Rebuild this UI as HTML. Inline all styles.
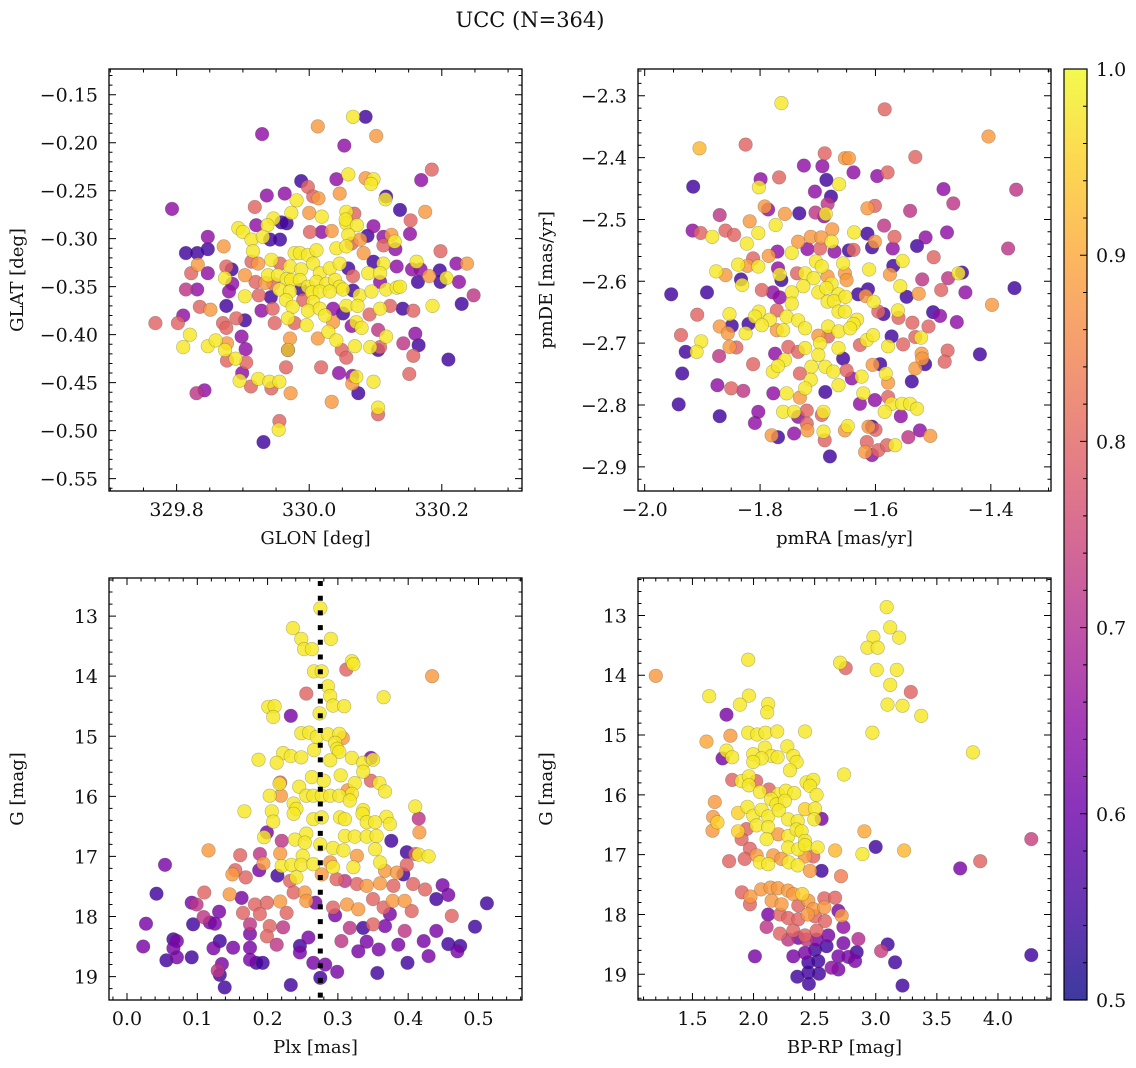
<!DOCTYPE html>
<html><head><meta charset="utf-8">
<style>
html,body{margin:0;padding:0;background:#fff;}
svg{display:block;font-family:"DejaVu Serif","Liberation Serif",serif;}
</style></head>
<body>
<svg id="fig" width="1136" height="1068" viewBox="0 0 1136 1068" xmlns="http://www.w3.org/2000/svg">
<rect width="1136" height="1068" fill="#fff"/>
<text x="530" y="27" font-size="21" text-anchor="middle" fill="#111">UCC (N=364)</text>
</svg>
<script>
// ---- data (x, y, membership probability) ----
const glonGlat = [
[330.066,-0.173,0.98],[330.085,-0.173,0.55],[330.013,-0.183,0.88],[330.101,-0.193,0.88],[329.929,-0.191,0.65],[330.053,-0.203,0.65],[330.185,-0.228,0.8],[330.059,-0.233,0.98],[330.041,-0.238,0.65],[330.085,-0.237,0.88],[330.097,-0.238,0.98],[330.093,-0.243,0.98],[330.169,-0.239,0.65],[329.988,-0.24,0.55],[329.998,-0.246,0.8],[329.936,-0.255,0.65],[329.963,-0.253,0.65],[330.046,-0.253,0.88],[330.006,-0.256,0.8],[330.014,-0.258,0.88],[330.116,-0.256,0.55],[330.115,-0.259,0.98],[329.981,-0.26,0.98],[329.793,-0.269,0.65],[329.918,-0.267,0.8],[330.137,-0.27,0.55],[330.175,-0.272,0.88],[329.973,-0.273,0.98],[330,-0.273,0.88],[330.019,-0.277,0.98],
[330.056,-0.272,0.98],[330.056,-0.284,0.98],[330.068,-0.274,0.8],[330.055,-0.28,0.98],[329.946,-0.279,0.98],[329.958,-0.283,0.55],[329.966,-0.284,0.55],[329.92,-0.286,0.65],[329.937,-0.286,0.98],[329.893,-0.289,0.98],[329.9,-0.293,0.98],[330.072,-0.286,0.98],[330.097,-0.287,0.65],[330.153,-0.281,0.8],[329.847,-0.298,0.65],[329.913,-0.301,0.98],[329.93,-0.298,0.98],[329.941,-0.301,0.55],[329.956,-0.301,0.55],
[330.001,-0.293,0.8],[330.019,-0.293,0.65],[330.034,-0.292,0.88],[330.059,-0.296,0.98],[330.077,-0.301,0.88],[330.088,-0.297,0.55],[330.112,-0.298,0.65],[330.124,-0.296,0.88],[330.129,-0.303,0.98],[330.152,-0.295,0.65],[329.814,-0.315,0.55],[329.831,-0.315,0.55],[329.847,-0.311,0.55],[329.871,-0.308,0.88],
[329.915,-0.313,0.98],[329.978,-0.315,0.98],[329.986,-0.315,0.98],[329.998,-0.317,0.98],[330.011,-0.312,0.98],[330.041,-0.31,0.98],[330.056,-0.308,0.98],[330.064,-0.305,0.8],[330.082,-0.315,0.88],[330.112,-0.307,0.8],[330.13,-0.311,0.65],[330.198,-0.313,0.8],
[329.832,-0.327,0.88],[329.822,-0.336,0.8],[329.847,-0.336,0.65],[329.875,-0.329,0.8],[329.883,-0.332,0.55],[329.903,-0.338,0.88],[329.913,-0.324,0.8],[329.923,-0.326,0.88],[329.943,-0.322,0.98],[329.956,-0.326,0.8],[329.938,-0.338,0.98],[329.953,-0.338,0.98],
[329.971,-0.329,0.98],[329.988,-0.332,0.98],[330.006,-0.326,0.98],[330.016,-0.336,0.98],[330.031,-0.331,0.98],[330.046,-0.326,0.98],[330.059,-0.331,0.55],[330.066,-0.339,0.8],[330.089,-0.336,0.98],[330.097,-0.324,0.55],[330.112,-0.326,0.98],[330.132,-0.329,0.65],[330.155,-0.332,0.65],[330.162,-0.324,0.98],[330.168,-0.332,0.65],[330.181,-0.339,0.88],[330.197,-0.333,0.55],[330.207,-0.341,0.98],[330.222,-0.326,0.65],[330.238,-0.326,0.88],
[329.873,-0.341,0.98],[329.884,-0.347,0.65],[329.814,-0.353,0.72],[329.831,-0.353,0.65],
[329.919,-0.345,0.8],[329.934,-0.346,0.88],[329.946,-0.347,0.8],[329.966,-0.342,0.98],[329.973,-0.343,0.98],[329.986,-0.343,0.98],[329.998,-0.35,0.98],[330.011,-0.345,0.98],[330.026,-0.347,0.98],[330.039,-0.343,0.98],[330.046,-0.35,0.98],[330.107,-0.336,0.98],[330.107,-0.345,0.65],[330.116,-0.353,0.98],[330.132,-0.351,0.98],[330.137,-0.35,0.98],[330.164,-0.345,0.55],[330.198,-0.345,0.55],[330.226,-0.345,0.65],
[329.879,-0.355,0.65],[329.903,-0.36,0.98],[329.924,-0.359,0.8],[329.942,-0.361,0.55],[329.955,-0.353,0.98],[329.971,-0.355,0.98],[329.988,-0.353,0.55],[330.004,-0.356,0.98],[330.016,-0.355,0.98],[330.031,-0.355,0.98],[330.051,-0.353,0.98],[330.066,-0.354,0.55],[330.076,-0.359,0.98],[330.094,-0.355,0.98],[330.248,-0.359,0.72],[330.23,-0.368,0.55],
[329.835,-0.371,0.8],[329.851,-0.374,0.88],[329.875,-0.37,0.55],[329.928,-0.375,0.65],[329.945,-0.373,0.8],[329.965,-0.364,0.98],[329.975,-0.371,0.98],[329.991,-0.364,0.8],[330.006,-0.366,0.98],[329.998,-0.375,0.98],[330.016,-0.373,0.98],[330.036,-0.373,0.65],[330.056,-0.37,0.98],[330.073,-0.37,0.98],[330.091,-0.379,0.8],[330.107,-0.373,0.98],[330.122,-0.37,0.8],[330.141,-0.373,0.55],[330.157,-0.375,0.8],[330.186,-0.37,0.98],
[329.768,-0.388,0.8],[329.802,-0.388,0.8],[329.81,-0.38,0.65],[329.87,-0.388,0.8],[329.875,-0.393,0.8],[329.903,-0.385,0.55],[329.89,-0.383,0.8],[329.948,-0.388,0.8],[329.968,-0.383,0.98],[329.978,-0.388,0.8],[329.996,-0.39,0.98],[330.024,-0.38,0.98],[330.036,-0.387,0.88],[330.051,-0.378,0.55],[330.071,-0.387,0.98],[330.079,-0.393,0.98],[330.064,-0.391,0.65],[330.104,-0.395,0.72],
[329.82,-0.4,0.98],[329.81,-0.413,0.98],[329.847,-0.412,0.98],[329.859,-0.406,0.98],[329.873,-0.416,0.98],[329.898,-0.402,0.65],[329.904,-0.415,0.65],[329.876,-0.409,0.88],[329.889,-0.425,0.98],[329.876,-0.427,0.8],[329.905,-0.429,0.8],
[329.971,-0.404,0.88],[329.968,-0.416,0.55],[329.968,-0.416,0.95],[330.013,-0.404,0.88],[330.029,-0.397,0.98],[330.041,-0.406,0.98],[330.049,-0.416,0.8],[330.056,-0.424,0.8],[330.069,-0.412,0.98],[330.092,-0.413,0.98],[330.104,-0.416,0.55],[330.107,-0.413,0.8],[330.116,-0.402,0.98],[330.142,-0.409,0.72],[330.16,-0.399,0.65],[330.165,-0.411,0.55],[330.157,-0.422,0.8],[330.21,-0.426,0.55],[330.151,-0.441,0.8],
[329.899,-0.44,0.65],[329.895,-0.448,0.98],[329.923,-0.446,0.98],[329.912,-0.454,0.8],[329.94,-0.449,0.98],[329.955,-0.449,0.98],[329.943,-0.456,0.8],[329.965,-0.434,0.8],[329.972,-0.461,0.88],[330.018,-0.434,0.8],[330.045,-0.44,0.65],[330.065,-0.443,0.65],[330.071,-0.444,0.98],[330.065,-0.451,0.88],[330.074,-0.461,0.55],[330.097,-0.449,0.98],[329.83,-0.461,0.72],[329.842,-0.458,0.65],[330.034,-0.47,0.88],
[330.104,-0.476,0.98],[330.104,-0.483,0.8],[329.955,-0.49,0.8],[329.954,-0.499,0.98],[329.931,-0.512,0.55]
];
const pmraPmde = [
[-1.763,-2.312,0.98],[-1.584,-2.322,0.8],[-1.404,-2.366,0.88],[-1.905,-2.385,0.92],[-1.825,-2.379,0.8],[-1.688,-2.393,0.8],[-1.653,-2.401,0.88],[-1.646,-2.401,0.88],[-1.531,-2.399,0.8],
[-1.724,-2.413,0.65],[-1.692,-2.414,0.65],[-1.638,-2.424,0.65],[-1.597,-2.43,0.65],[-1.579,-2.424,0.8],[-1.799,-2.435,0.65],[-1.767,-2.432,0.8],[-1.685,-2.436,0.55],[-1.663,-2.443,0.98],[-1.916,-2.447,0.55],[-1.802,-2.448,0.98],
[-1.482,-2.451,0.65],[-1.356,-2.452,0.72],[-1.705,-2.455,0.65],[-1.677,-2.463,0.55],[-1.465,-2.474,0.72],[-1.683,-2.475,0.72],[-1.792,-2.479,0.88],[-1.786,-2.484,0.65],[-1.614,-2.482,0.88],[-1.601,-2.478,0.8],[-1.54,-2.486,0.72],
[-1.87,-2.493,0.72],[-1.757,-2.491,0.88],[-1.732,-2.49,0.55],[-1.704,-2.489,0.72],[-1.689,-2.495,0.65],[-1.686,-2.491,0.98],[-1.818,-2.503,0.88],[-1.773,-2.509,0.98],[-1.803,-2.522,0.98],[-1.585,-2.51,0.72],
[-1.917,-2.518,0.65],[-1.903,-2.522,0.8],[-1.883,-2.528,0.98],[-1.86,-2.518,0.8],[-1.845,-2.525,0.8],[-1.823,-2.539,0.98],[-1.675,-2.516,0.88],[-1.637,-2.521,0.98],[-1.614,-2.523,0.55],[-1.601,-2.536,0.88],[-1.567,-2.528,0.8],[-1.513,-2.529,0.65],[-1.476,-2.521,0.65],
[-1.734,-2.536,0.88],[-1.712,-2.528,0.88],[-1.694,-2.529,0.88],[-1.676,-2.536,0.98],[-1.718,-2.548,0.65],[-1.696,-2.547,0.8],[-1.671,-2.552,0.65],[-1.646,-2.55,0.55],[-1.638,-2.549,0.8],[-1.606,-2.545,0.55],[-1.57,-2.547,0.65],[-1.528,-2.543,0.55],[-1.37,-2.547,0.72],
[-1.77,-2.552,0.65],[-1.745,-2.554,0.98],[-1.785,-2.559,0.88],[-1.812,-2.563,0.8],[-1.822,-2.575,0.88],[-1.838,-2.573,0.98],[-1.499,-2.561,0.8],
[-1.703,-2.568,0.98],[-1.693,-2.576,0.98],[-1.656,-2.571,0.98],[-1.803,-2.576,0.98],[-1.769,-2.579,0.65],[-1.736,-2.587,0.8],[-1.553,-2.567,0.98],[-1.569,-2.575,0.55],[-1.611,-2.581,0.98],
[-1.876,-2.584,0.98],[-1.86,-2.59,0.88],[-1.833,-2.597,0.55],[-1.831,-2.606,0.98],[-1.766,-2.589,0.98],[-1.763,-2.598,0.55],[-1.722,-2.587,0.98],[-1.707,-2.595,0.98],[-1.683,-2.592,0.88],[-1.676,-2.604,0.98],[-1.653,-2.587,0.88],[-1.65,-2.598,0.88],[-1.456,-2.587,0.98],[-1.45,-2.586,0.55],[-1.575,-2.589,0.88],[-1.519,-2.597,0.72],[-1.474,-2.595,0.72],[-1.557,-2.608,0.98],
[-1.954,-2.621,0.55],[-1.892,-2.618,0.55],[-1.797,-2.614,0.8],[-1.778,-2.618,0.65],[-1.766,-2.626,0.65],[-1.725,-2.608,0.98],[-1.745,-2.618,0.98],[-1.699,-2.618,0.98],[-1.685,-2.611,0.98],[-1.664,-2.621,0.98],[-1.63,-2.621,0.55],[-1.613,-2.613,0.55],[-1.617,-2.624,0.88],[-1.546,-2.625,0.55],[-1.525,-2.62,0.88],[-1.486,-2.614,0.8],[-1.444,-2.618,0.65],[-1.359,-2.611,0.55],
[-1.683,-2.633,0.98],[-1.672,-2.632,0.98],[-1.652,-2.625,0.98],[-1.603,-2.633,0.98],[-1.664,-2.649,0.98],[-1.653,-2.649,0.98],[-1.632,-2.662,0.98],[-1.638,-2.669,0.98],[-1.745,-2.636,0.98],[-1.771,-2.647,0.8],[-1.802,-2.649,0.98],[-1.853,-2.653,0.98],[-1.809,-2.657,0.98],[-1.783,-2.662,0.98],[-1.797,-2.671,0.98],[-1.754,-2.657,0.98],[-1.734,-2.663,0.98],[-1.722,-2.676,0.98],[-1.76,-2.679,0.98],[-1.771,-2.679,0.88],[-1.398,-2.638,0.88],[-1.595,-2.649,0.8],[-1.586,-2.653,0.55],[-1.561,-2.647,0.98],[-1.56,-2.659,0.8],[-1.5,-2.65,0.55],[-1.488,-2.656,0.65],[-1.536,-2.667,0.8],[-1.459,-2.666,0.65],
[-1.909,-2.654,0.8],[-1.937,-2.687,0.8],[-1.902,-2.697,0.98],[-1.929,-2.714,0.55],[-1.91,-2.714,0.98],[-1.87,-2.673,0.88],[-1.849,-2.672,0.55],[-1.82,-2.669,0.55],[-1.856,-2.684,0.88],[-1.841,-2.707,0.8],[-1.825,-2.684,0.98],[-1.812,-2.734,0.8],[-1.871,-2.721,0.72],[-1.853,-2.706,0.88],[-1.682,-2.673,0.98],[-1.699,-2.688,0.88],[-1.682,-2.689,0.8],[-1.664,-2.681,0.98],[-1.644,-2.676,0.98],[-1.696,-2.7,0.98],[-1.664,-2.708,0.98],[-1.627,-2.703,0.8],[-1.615,-2.695,0.98],[-1.604,-2.687,0.98],[-1.578,-2.705,0.98],[-1.572,-2.689,0.55],[-1.552,-2.702,0.8],[-1.531,-2.69,0.8],[-1.521,-2.691,0.98],[-1.475,-2.712,0.8],[-1.419,-2.718,0.55],[-1.508,-2.673,0.8],
[-1.774,-2.717,0.65],[-1.757,-2.727,0.98],[-1.778,-2.746,0.98],[-1.769,-2.737,0.98],[-1.751,-2.706,0.8],[-1.734,-2.714,0.8],[-1.722,-2.708,0.98],[-1.711,-2.738,0.98],[-1.699,-2.719,0.98],[-1.687,-2.738,0.98],[-1.673,-2.746,0.98],[-1.656,-2.725,0.55],[-1.664,-2.768,0.98],[-1.712,-2.759,0.98],[-1.722,-2.773,0.98],[-1.731,-2.749,0.8],[-1.687,-2.779,0.55],[-1.65,-2.744,0.8],[-1.641,-2.757,0.65],[-1.624,-2.754,0.98],[-1.605,-2.735,0.88],[-1.592,-2.734,0.55],[-1.582,-2.749,0.98],[-1.578,-2.764,0.88],[-1.537,-2.762,0.55],[-1.531,-2.741,0.88],[-1.514,-2.734,0.55],[-1.48,-2.73,0.8],[-1.52,-2.717,0.88],[-1.519,-2.725,0.88],
[-1.941,-2.799,0.55],[-1.935,-2.749,0.55],[-1.874,-2.768,0.65],[-1.85,-2.773,0.8],[-1.829,-2.777,0.72],[-1.87,-2.818,0.55],[-1.803,-2.811,0.65],[-1.809,-2.829,0.65],[-1.777,-2.781,0.65],[-1.754,-2.781,0.98],[-1.76,-2.811,0.98],[-1.741,-2.811,0.98],[-1.734,-2.819,0.65],[-1.731,-2.788,0.88],[-1.719,-2.809,0.8],[-1.693,-2.816,0.8],[-1.69,-2.811,0.98],[-1.719,-2.83,0.8],[-1.718,-2.841,0.88],[-1.741,-2.846,0.65],[-1.78,-2.849,0.88],[-1.769,-2.852,0.55],[-1.69,-2.843,0.98],[-1.688,-2.857,0.8],[-1.679,-2.883,0.55],[-1.648,-2.834,0.98],[-1.653,-2.841,0.88],[-1.627,-2.798,0.65],[-1.621,-2.781,0.98],[-1.606,-2.835,0.55],[-1.601,-2.792,0.65],[-1.6,-2.84,0.8],[-1.612,-2.835,0.88],[-1.615,-2.86,0.8],[-1.618,-2.876,0.88],[-1.606,-2.881,0.65],[-1.595,-2.873,0.8],[-1.58,-2.865,0.8],[-1.566,-2.865,0.98],[-1.578,-2.787,0.8],[-1.572,-2.798,0.98],[-1.554,-2.798,0.98],[-1.54,-2.798,0.98],[-1.528,-2.806,0.98],[-1.584,-2.811,0.98],[-1.556,-2.818,0.65],[-1.543,-2.852,0.72],[-1.523,-2.841,0.65],[-1.505,-2.85,0.88]
];
const plxG = [
[0.275,12.87,0.98],[0.236,13.2,0.98],[0.248,13.38,0.98],[0.252,13.55,0.98],[0.263,13.55,0.98],[0.29,13.38,0.98],[0.32,13.75,0.98],[0.322,13.8,0.98],[0.312,13.89,0.8],[0.434,14.0,0.88],[0.266,13.92,0.98],[0.277,13.92,0.98],[0.286,14.17,0.98],[0.289,14.33,0.98],[0.293,14.49,0.98],[0.309,14.5,0.98],[0.365,14.35,0.98],[0.255,14.29,0.8],[0.201,14.51,0.98],[0.21,14.5,0.98],[0.208,14.68,0.98],[0.233,14.66,0.62],[0.274,14.62,0.98],
[0.248,14.95,0.98],[0.259,14.94,0.98],[0.27,15.01,0.98],[0.286,14.97,0.98],[0.302,14.96,0.98],[0.307,15.03,0.88],[0.296,15.11,0.98],[0.299,15.21,0.98],[0.302,15.26,0.98],[0.266,15.23,0.98],[0.222,15.28,0.98],[0.233,15.33,0.98],[0.248,15.35,0.98],[0.187,15.39,0.98],[0.213,15.44,0.98],[0.289,15.4,0.98],[0.347,15.36,0.62],[0.32,15.36,0.98],[0.336,15.44,0.98],[0.35,15.39,0.98],[0.336,15.59,0.98],[0.304,15.65,0.98],[0.263,15.68,0.98],[0.28,15.74,0.98],[0.218,15.77,0.8],[0.217,15.79,0.98],[0.245,15.84,0.98],[0.347,15.74,0.8],[0.359,15.78,0.98],[0.367,15.92,0.98],[0.324,15.78,0.98],[0.314,15.9,0.88],[0.32,15.96,0.98],
[0.203,15.99,0.98],[0.219,15.99,0.88],[0.255,15.99,0.98],[0.265,15.99,0.98],[0.277,15.99,0.98],[0.289,15.99,0.98],[0.302,15.99,0.98],[0.237,16.12,0.98],[0.241,16.21,0.98],[0.237,16.29,0.98],[0.317,16.07,0.98],[0.167,16.25,0.98],[0.206,16.25,0.98],[0.208,16.42,0.98],[0.41,16.17,0.98],[0.415,16.37,0.72],[0.416,16.6,0.88],[0.336,16.23,0.98],[0.335,16.29,0.98],[0.369,16.34,0.98],[0.374,16.46,0.98],
[0.265,16.38,0.98],[0.277,16.35,0.98],[0.303,16.35,0.98],[0.31,16.38,0.98],[0.341,16.43,0.98],[0.353,16.43,0.98],[0.255,16.62,0.98],[0.239,16.72,0.98],[0.253,16.77,0.98],[0.31,16.66,0.98],[0.324,16.67,0.98],[0.341,16.67,0.98],[0.355,16.66,0.98],[0.199,16.6,0.62],[0.195,16.68,0.98],[0.22,16.74,0.72],[0.376,16.74,0.55],[0.116,16.9,0.88],[0.275,16.8,0.98],[0.293,16.86,0.98],[0.308,16.9,0.98],[0.353,16.88,0.98],
[0.398,16.93,0.55],[0.41,16.96,0.8],[0.415,16.97,0.98],[0.429,17.0,0.98],[0.161,16.98,0.8],[0.189,16.96,0.72],[0.218,16.95,0.88],[0.25,16.99,0.98],[0.327,16.99,0.88],[0.36,17.1,0.98],[0.054,17.14,0.62],[0.194,17.12,0.88],[0.22,17.16,0.98],[0.234,17.14,0.98],[0.248,17.14,0.98],[0.265,17.13,0.98],[0.289,17.1,0.88],[0.293,17.18,0.98],[0.322,17.18,0.98],[0.367,17.24,0.88],[0.384,17.27,0.88],[0.393,17.3,0.55],[0.398,17.14,0.8],
[0.15,17.3,0.88],[0.169,17.35,0.8],[0.154,17.23,0.8],[0.188,17.23,0.62],[0.214,17.32,0.55],[0.241,17.35,0.98],[0.232,17.41,0.8],[0.277,17.3,0.88],[0.298,17.38,0.8],[0.31,17.41,0.72],[0.327,17.46,0.8],[0.341,17.49,0.88],[0.36,17.45,0.88],[0.379,17.49,0.8],[0.407,17.46,0.8],[0.424,17.55,0.8],[0.449,17.48,0.62],[0.457,17.64,0.62],[0.44,17.71,0.55],[0.512,17.78,0.55],[0.042,17.62,0.55],[0.11,17.6,0.8],
[0.146,17.63,0.88],[0.163,17.69,0.62],[0.092,17.77,0.62],[0.099,17.8,0.72],[0.182,17.8,0.8],[0.199,17.77,0.8],[0.218,17.75,0.88],[0.237,17.6,0.8],[0.253,17.6,0.88],[0.255,17.74,0.88],[0.268,17.77,0.62],[0.293,17.85,0.8],[0.313,17.8,0.88],[0.329,17.88,0.88],[0.35,17.71,0.8],[0.365,17.85,0.8],[0.378,17.74,0.88],[0.395,17.74,0.88],[0.405,17.91,0.8],[0.131,17.92,0.62],[0.165,17.94,0.8],[0.189,17.96,0.8],[0.227,17.94,0.8],
[0.109,18.01,0.72],[0.118,18.1,0.62],[0.027,18.12,0.62],[0.094,18.13,0.55],[0.125,18.12,0.62],[0.175,18.13,0.72],[0.203,18.16,0.8],[0.222,18.18,0.72],[0.296,17.98,0.62],[0.317,18.19,0.72],[0.336,18.19,0.55],[0.35,18.13,0.8],[0.367,18.16,0.62],[0.374,17.96,0.62],[0.462,17.99,0.8],[0.44,18.24,0.62],[0.495,18.17,0.55],[0.395,18.24,0.72],
[0.175,18.29,0.62],[0.199,18.33,0.8],[0.213,18.47,0.72],[0.246,18.49,0.55],[0.258,18.35,0.62],[0.246,18.6,0.62],[0.066,18.38,0.55],[0.071,18.41,0.62],[0.066,18.53,0.62],[0.023,18.5,0.62],[0.123,18.53,0.62],[0.132,18.41,0.55],[0.151,18.52,0.62],[0.175,18.52,0.62],[0.305,18.41,0.72],[0.341,18.42,0.62],[0.358,18.55,0.62],[0.386,18.47,0.62],[0.422,18.41,0.62],[0.457,18.46,0.55],[0.474,18.49,0.55],[0.47,18.58,0.62],[0.329,18.58,0.62],[0.429,18.66,0.62],
[0.056,18.73,0.55],[0.071,18.68,0.62],[0.092,18.68,0.55],[0.135,18.79,0.62],[0.175,18.72,0.62],[0.184,18.77,0.55],[0.193,18.77,0.55],[0.129,18.9,0.72],[0.132,18.97,0.55],[0.265,18.77,0.62],[0.282,18.8,0.62],[0.299,18.92,0.62],[0.356,18.94,0.55],[0.399,18.77,0.55],[0.139,19.18,0.55],[0.233,19.14,0.55],[0.275,19.02,0.55]
];
const bprpG = [
[3.09,12.86,0.98],[3.118,13.2,0.98],[2.981,13.36,0.98],[3.191,13.37,0.98],[2.932,13.54,0.98],[3.016,13.54,0.98],[1.956,13.74,0.98],[2.708,13.79,0.98],[2.754,13.88,0.8],[1.2,14.01,0.88],[3.008,13.91,0.98],[3.172,13.91,0.98],[3.118,14.16,0.98],[3.287,14.28,0.8],
[1.637,14.35,0.98],[1.962,14.34,0.98],[1.888,14.49,0.98],[2.12,14.48,0.98],[2.112,14.62,0.98],[3.096,14.49,0.98],[3.219,14.51,0.98],[3.372,14.68,0.98],[1.779,14.66,0.62],
[1.956,14.96,0.98],[2.03,14.99,0.98],[2.098,14.96,0.98],[2.194,14.94,0.98],[2.421,14.94,0.98],[2.973,14.96,0.98],[1.615,15.11,0.9],[1.811,15.01,0.88],[3.795,15.29,0.98],
[1.779,15.26,0.98],[1.746,15.39,0.62],[1.825,15.37,0.98],[1.997,15.32,0.98],[2.093,15.21,0.98],[2.148,15.35,0.98],[2.066,15.39,0.98],[2.197,15.37,0.98],[2.276,15.19,0.98],[2.325,15.35,0.98],[2.352,15.45,0.98],[2.298,15.59,0.98],[1.997,15.45,0.98],[2.74,15.66,0.98],
[1.825,15.75,0.8],[1.902,15.77,0.98],[1.962,15.69,0.98],[2.022,15.77,0.8],[1.962,15.84,0.98],[2.434,15.79,0.98],[2.489,15.75,0.98],[2.462,15.85,0.98],
[1.683,16.12,0.88],[2.052,15.95,0.98],[2.126,15.91,0.8],[2.202,15.99,0.98],[2.265,15.93,0.98],[2.333,15.97,0.98],[2.516,16.0,0.98],[2.142,16.07,0.98],[2.188,16.16,0.98],[2.257,16.1,0.98],
[1.669,16.37,0.88],[1.705,16.46,0.95],[1.664,16.6,0.88],[1.874,16.3,0.95],[1.951,16.2,0.98],[1.997,16.35,0.98],[2.066,16.25,0.98],[2.12,16.36,0.98],[2.207,16.26,0.98],[2.284,16.41,0.98],[2.361,16.44,0.98],[2.421,16.24,0.95],[2.503,16.23,0.98],[2.497,16.41,0.98],[2.557,16.4,0.62],
[1.874,16.61,0.95],[1.943,16.57,0.8],[2.025,16.51,0.98],[2.12,16.54,0.98],[2.107,16.74,0.98],[2.202,16.66,0.88],[2.284,16.69,0.98],[2.352,16.58,0.98],[2.393,16.61,0.98],[2.421,16.77,0.98],[2.284,16.88,0.98],[2.366,16.91,0.98],[2.421,16.84,0.98],[2.525,16.88,0.98],[1.902,16.74,0.8],[1.97,16.9,0.8],[2.907,16.61,0.9],[2.667,16.93,0.92],[2.891,16.99,0.98],[3.0,16.87,0.55],[3.232,16.93,0.92],
[1.8,17.11,0.8],[1.928,17.07,0.8],[2.025,17.01,0.88],[2.052,17.13,0.98],[2.12,17.16,0.98],[2.161,17.01,0.88],[2.229,17.07,0.88],[2.289,17.13,0.98],[2.361,17.18,0.98],[2.421,17.03,0.88],[2.489,17.03,0.8],[2.462,17.27,0.88],[2.557,17.27,0.55],[2.716,17.36,0.84],[4.273,16.74,0.74],[3.691,17.23,0.62],[3.855,17.11,0.8],
[1.905,17.63,0.8],[1.975,17.7,0.88],[2.063,17.58,0.88],[2.139,17.55,0.88],[2.199,17.56,0.88],[2.281,17.6,0.88],[2.148,17.77,0.88],[2.23,17.83,0.88],[2.325,17.66,0.88],[2.399,17.66,0.95],[2.448,17.77,0.88],[2.366,17.85,0.8],[2.489,17.91,0.88],[2.579,17.73,0.8],[2.667,17.72,0.8],[2.579,17.88,0.88],[2.694,17.94,0.62],[2.721,18.02,0.88],[1.97,17.83,0.8],
[2.12,18.0,0.62],[2.216,18.0,0.8],[2.284,18.06,0.8],[2.366,18.08,0.8],[2.443,18.0,0.88],[2.503,18.03,0.8],[2.585,18.11,0.8],[2.107,18.21,0.72],[2.216,18.32,0.8],[2.325,18.27,0.8],[2.421,18.35,0.8],[2.516,18.27,0.8],[2.612,18.35,0.62],[2.735,18.21,0.65],[2.858,18.41,0.7],[2.366,18.39,0.62],[2.434,18.42,0.72],[2.284,18.42,0.72],[2.516,18.42,0.62],
[2.325,18.7,0.62],[2.421,18.64,0.62],[2.503,18.59,0.55],[2.598,18.53,0.55],[2.694,18.7,0.62],[2.735,18.48,0.62],[2.844,18.63,0.55],[2.776,18.71,0.62],[2.831,18.78,0.62],[2.639,18.89,0.65],[2.53,18.78,0.55],[2.448,18.8,0.55],[2.011,18.7,0.62],[3.098,18.5,0.55],[3.044,18.61,0.74],[3.158,18.8,0.55],[4.273,18.68,0.55],
[2.358,19.04,0.55],[2.448,18.97,0.55],[2.536,18.99,0.55],[2.453,19.16,0.55],[2.694,18.92,0.62],[3.219,19.19,0.55]
];
const plxReference = [0.275];
const cbarTicks = [0.5, 0.6, 0.7, 0.8, 0.9, 1.0];
const cbarRange = [0.5, 1.0];

// ---- plasma colormap ----
const plasmaStops = ["#0d0887","#41049d","#6a00a8","#8f0da4","#b12a90","#cc4778","#e16462","#f2844b","#fca636","#fcce25","#f0f921"];
function hex2rgb(h){return [parseInt(h.substr(1,2),16),parseInt(h.substr(3,2),16),parseInt(h.substr(5,2),16)];}
function plasma(t){
  t=Math.max(0,Math.min(1,t));
  const f=t*(plasmaStops.length-1), i=Math.min(Math.floor(f),plasmaStops.length-2), r=f-i;
  const a=hex2rgb(plasmaStops[i]), b=hex2rgb(plasmaStops[i+1]);
  return "rgb("+a.map((v,k)=>Math.round(v+(b[k]-v)*r)).join(",")+")";
}
function probColor(p){return plasma((p-cbarRange[0])/(cbarRange[1]-cbarRange[0]));}

const NS="http://www.w3.org/2000/svg";
const svg=document.getElementById('fig');
function mk(tag,attrs,parent){
  const e=document.createElementNS(NS,tag);
  for(const k in attrs) e.setAttribute(k,attrs[k]);
  (parent||svg).appendChild(e);
  return e;
}
function fmt(v,d){const s=Math.abs(v).toFixed(d);return (v< -1e-9?"\u2212":"")+s;}

const panels=[
 {name:"glon-glat", data:glonGlat, px:[109,522], py:[69,491], xd:[329.698,330.321], yd:[-0.1232,-0.5629],
  xMaj:0.2, xMin:0.05, yMaj:0.05, yMin:0.01, xDec:1, yDec:2, xlab:"GLON [deg]", ylab:"GLAT [deg]"},
 {name:"pmra-pmde", data:pmraPmde, px:[638,1051], py:[69,491], xd:[-2.0116,-1.2957], yd:[-2.2568,-2.939],
  xMaj:0.2, xMin:0.05, yMaj:0.1, yMin:0.02, xDec:1, yDec:1, xlab:"pmRA [mas/yr]", ylab:"pmDE [mas/yr]"},
 {name:"plx-g", data:plxG, px:[109,522], py:[578,1000], xd:[-0.0256,0.5619], yd:[12.366,19.39],
  xMaj:0.1, xMin:0.02, yMaj:1, yMin:0.2, xDec:1, yDec:0, xlab:"Plx [mas]", ylab:"G [mag]"},
 {name:"bprp-g", data:bprpG, px:[638,1051], py:[578,1000], xd:[1.0546,4.434], yd:[12.374,19.43],
  xMaj:0.5, xMin:0.1, yMaj:1, yMin:0.2, xDec:1, yDec:0, xlab:"BP-RP [mag]", ylab:"G [mag]"}
];

function ticks(lo,hi,step){
  const a=Math.min(lo,hi), b=Math.max(lo,hi), out=[];
  for(let k=Math.ceil(a/step-1e-6); k<=Math.floor(b/step+1e-6); k++) out.push(k*step);
  return out;
}

panels.forEach((P,pi)=>{
  const sx=v=>P.px[0]+(v-P.xd[0])/(P.xd[1]-P.xd[0])*(P.px[1]-P.px[0]);
  const sy=v=>P.py[0]+(v-P.yd[0])/(P.yd[1]-P.yd[0])*(P.py[1]-P.py[0]);
  const g=mk('g',{});
  
  
  const id='clip'+pi;
  const cp=mk('clipPath',{id:id},g);
  mk('rect',{x:P.px[0],y:P.py[0],width:P.px[1]-P.px[0],height:P.py[1]-P.py[0]},cp);
  const pts=mk('g',{'clip-path':'url(#'+id+')'},g);
  
  
  const sorted=P.data.slice().sort((a,b)=>a[2]-b[2]);
  sorted.forEach(d=>{
    const c=mk('circle',{cx:sx(d[0]).toFixed(1),cy:sy(d[1]).toFixed(1),r:6.8,fill:probColor(d[2]),'fill-opacity':0.82,stroke:'rgba(60,60,60,0.35)','stroke-width':0.6},pts);
    
    
  });
  if(P.name==='plx-g'){
    plxReference.forEach(v=>{
      const l=mk('line',{x1:sx(v),x2:sx(v),y1:P.py[0],y2:P.py[1],stroke:'#000','stroke-width':5,'stroke-dasharray':'5 9.7','stroke-dashoffset':'-3'},pts);
      
      
    });
  }
  const fr=mk('rect',{x:P.px[0],y:P.py[0],width:P.px[1]-P.px[0],height:P.py[1]-P.py[0],fill:'none',stroke:'#000','stroke-width':1.3},g);
  
  
  let tp="";
  ticks(P.xd[0],P.xd[1],P.xMin).forEach(v=>{const x=sx(v);tp+=`M${x},${P.py[1]}v-3.5M${x},${P.py[0]}v3.5`;});
  ticks(P.yd[0],P.yd[1],P.yMin).forEach(v=>{const y=sy(v);tp+=`M${P.px[0]},${y}h3.5M${P.px[1]},${y}h-3.5`;});
  ticks(P.xd[0],P.xd[1],P.xMaj).forEach(v=>{const x=sx(v);tp+=`M${x},${P.py[1]}v-7M${x},${P.py[0]}v7`;
    const t=mk('text',{x:x,y:P.py[1]+25,'font-size':19,'text-anchor':'middle',fill:'#111'},g);t.textContent=fmt(v,P.xDec);
    
    
  });
  ticks(P.yd[0],P.yd[1],P.yMaj).forEach(v=>{const y=sy(v);tp+=`M${P.px[0]},${y}h7M${P.px[1]},${y}h-7`;
    const t=mk('text',{x:P.px[0]-11,y:y+7,'font-size':19,'text-anchor':'end',fill:'#111'},g);t.textContent=fmt(v,P.yDec);
    
    
  });
  const tk=mk('path',{d:tp,stroke:'#000','stroke-width':1,fill:'none'},g);
  
  
  const xl=mk('text',{x:(P.px[0]+P.px[1])/2,y:P.py[1]+53,'font-size':18,'text-anchor':'middle',fill:'#111'},g);
  xl.textContent=P.xlab;
  
  
  const cy=(P.py[0]+P.py[1])/2, cx=P.px[0]-86;
  const yl=mk('text',{x:cx,y:cy,'font-size':18,'text-anchor':'middle',fill:'#111',transform:`rotate(-90 ${cx} ${cy})`},g);
  yl.textContent=P.ylab;
  
  
});

(function(){
  const x0=1064,x1=1087,y0=69,y1=1000;
  const g=mk('g',{});
  
  
  const defs=mk('defs',{},g);
  const lg=mk('linearGradient',{id:'cbg',x1:0,y1:1,x2:0,y2:0},defs);
  for(let i=0;i<=20;i++){const t=i/20;mk('stop',{offset:t,'stop-color':plasma(t)},lg);}
  mk('rect',{x:x0,y:y0,width:x1-x0,height:y1-y0,fill:'url(#cbg)','fill-opacity':0.8},g);
  mk('rect',{x:x0,y:y0,width:x1-x0,height:y1-y0,fill:'none',stroke:'#000','stroke-width':1.2},g);
  const sy=v=>y1-(v-cbarRange[0])/(cbarRange[1]-cbarRange[0])*(y1-y0);
  let tp="";
  ticks(cbarRange[0],cbarRange[1],0.02).forEach(v=>{tp+=`M${x1},${sy(v)}h-4`;});
  cbarTicks.forEach(v=>{const y=sy(v);tp+=`M${x1},${y}h-7`;
    const t=mk('text',{x:1096,y:y+7,'font-size':19,fill:'#111'},g);t.textContent=v.toFixed(1);
    
    
  });
  mk('path',{d:tp,stroke:'#000','stroke-width':1,fill:'none'},g);
})();
</script>
</body></html>
